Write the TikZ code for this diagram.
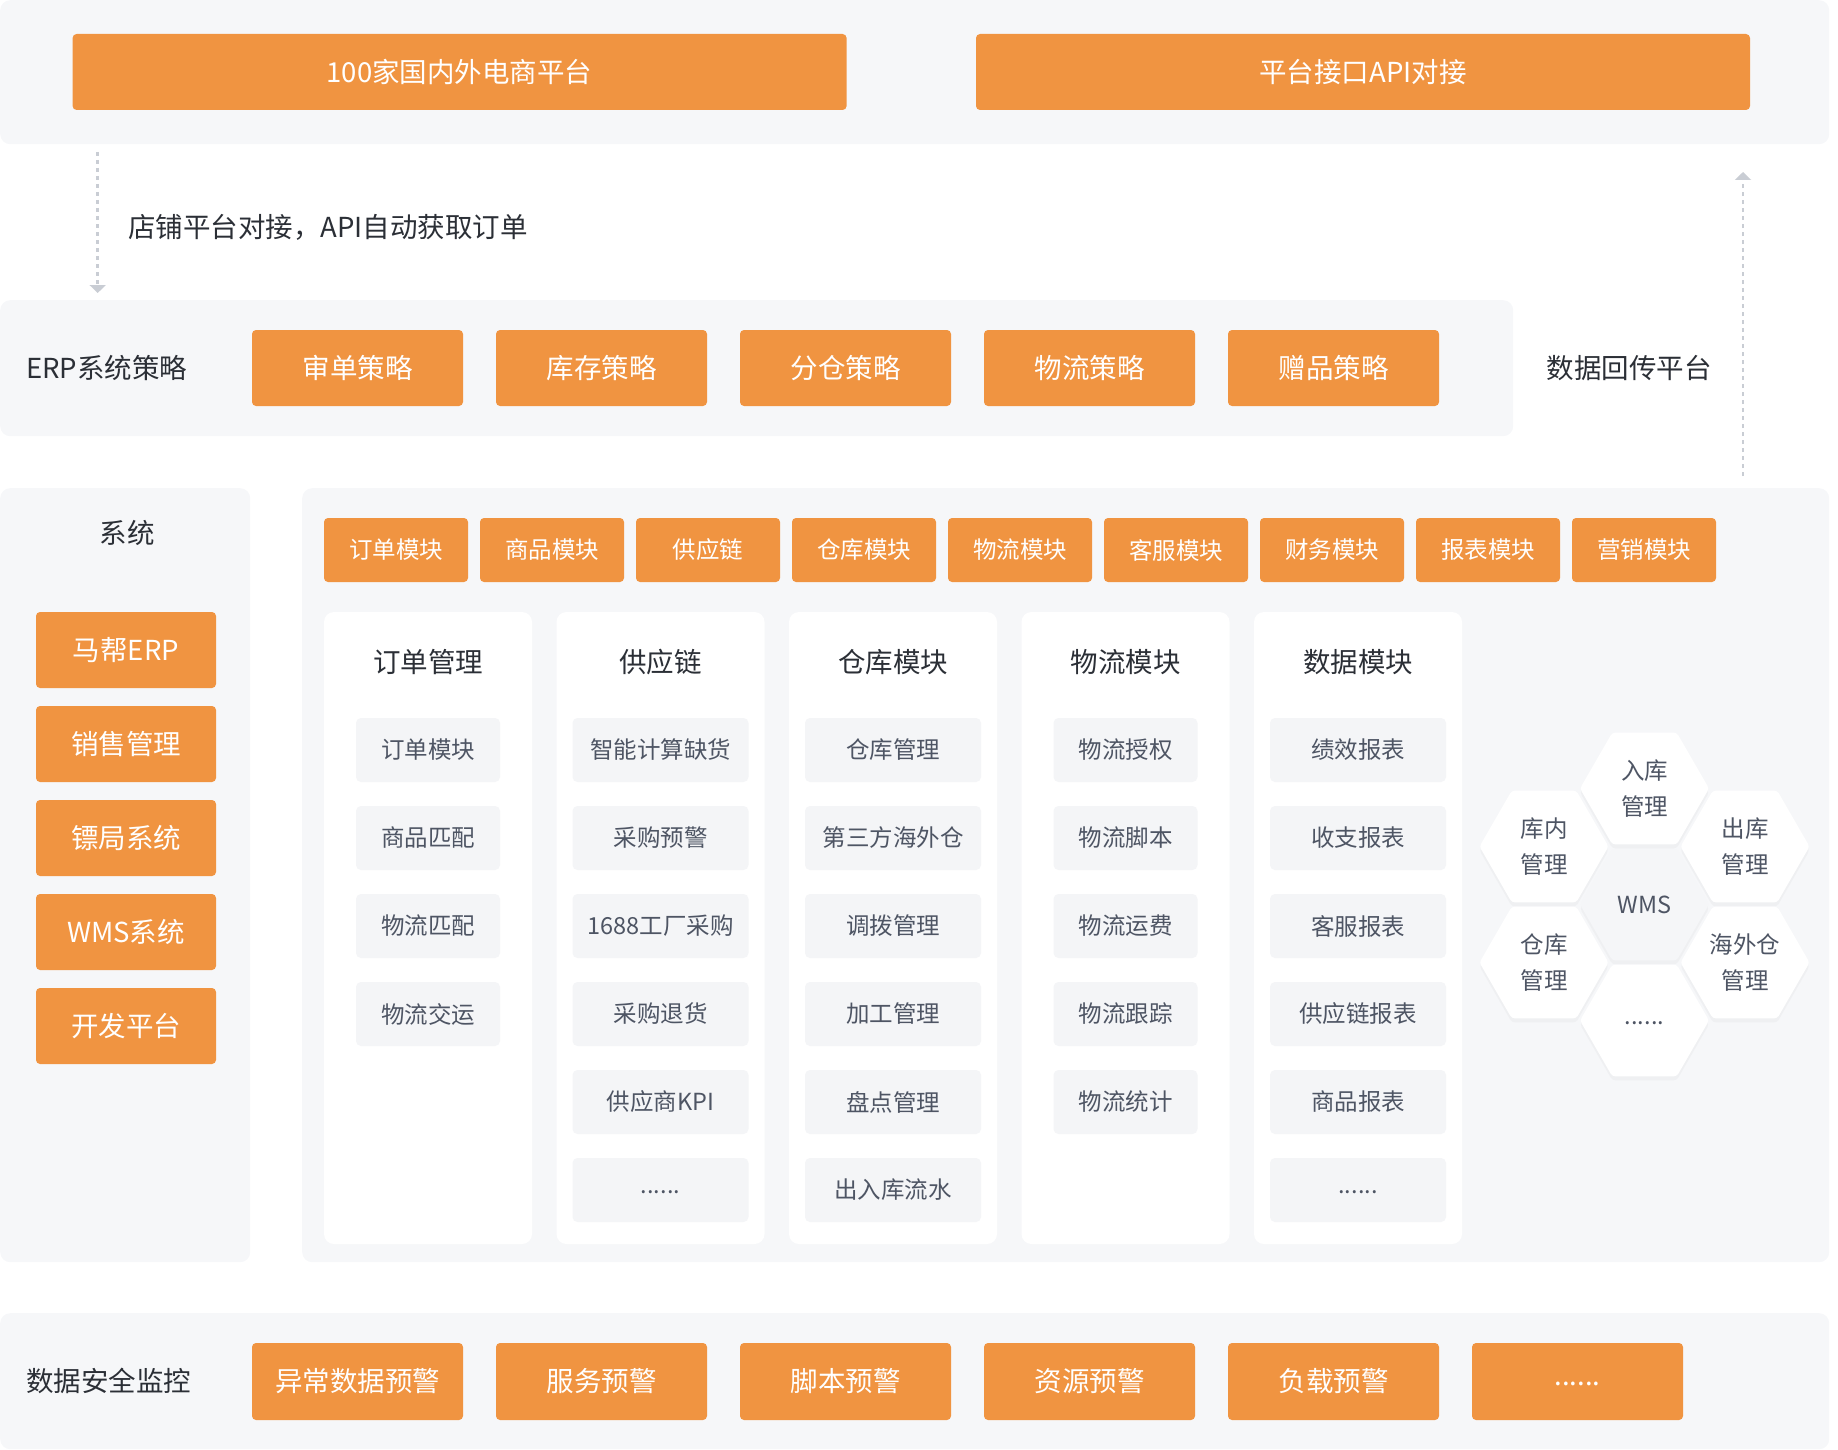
\documentclass[tikz,border=0pt]{standalone}
\usepackage{fontspec}
\setmainfont{Noto Sans CJK SC}
\usetikzlibrary{arrows.meta,shapes.geometric,shadows}

\definecolor{boxorange}{HTML}{F09441}
\definecolor{panelgray}{HTML}{F6F7F9}
\definecolor{itemgray}{HTML}{F4F5F7}
\definecolor{darktext}{HTML}{2B2F36}
\definecolor{itemtext}{HTML}{4E5564}
\definecolor{arrowgray}{HTML}{C9CDD4}

\newcommand{\fbig}{\fontsize{27.5}{33}\selectfont}
\newcommand{\fsmall}{\fontsize{23.5}{28}\selectfont}

\tikzset{
  panel/.style={fill=panelgray,rounded corners=10pt,inner sep=0pt,anchor=north west},
  column/.style={fill=white,rounded corners=10pt,inner sep=0pt,minimum width=208pt,minimum height=632pt},
  bigbox/.style={fill=boxorange,text=white,rounded corners=4pt,inner sep=0pt,minimum height=76pt,font=\fbig},
  smallbox/.style={fill=boxorange,text=white,rounded corners=4pt,inner sep=0pt,minimum width=144pt,minimum height=64pt,font=\fsmall},
  item/.style={fill=itemgray,text=itemtext,rounded corners=5pt,inner sep=0pt,minimum height=64pt,font=\fsmall},
  note/.style={text=darktext,inner sep=0pt,font=\fbig},
  hexa/.style={shape=regular polygon,regular polygon sides=6,minimum size=129pt,inner sep=0pt,
    fill=white,rounded corners=3pt,text=itemtext,align=center,font=\fontsize{23.5}{36}\selectfont,
    drop shadow={shadow xshift=0pt,shadow yshift=-4pt,opacity=0.05}},
  dots/.style={text height=0.75em,text depth=0pt},
  flow/.style={arrowgray,line width=2.5pt,dash pattern=on 4pt off 4pt,-{Triangle[width=16pt,length=8pt]}}
}

\begin{document}
\begin{tikzpicture}[x=1pt,y=-1pt]
\useasboundingbox (0,0) rectangle (1838,1450);

% platforms
\node[panel,minimum width=1829pt,minimum height=144pt] (toppanel) at (0,0) {};
\node[bigbox,minimum width=774pt] (platforms) at (459.6,72) {100家国内外电商平台};
\node[bigbox,minimum width=774pt] (apilink) at (1363,72) {平台接口API对接};

\coordinate (ordersrc) at (97.7,152);
\coordinate (orderdst) at (97.7,293);
\draw[flow] (ordersrc) -- (orderdst);
\node[note,anchor=west] (ordertext) at (128,227) {店铺平台对接，API自动获取订单};

% erp strategies
\node[panel,minimum width=1513pt,minimum height=136pt] (erppanel) at (0,300) {};
\node[note,anchor=west] (erptitle) at (26,368) {ERP系统策略};
\node[bigbox,minimum width=211pt] (audit) at (357.5,368) {审单策略};
\node[bigbox,minimum width=211pt] (stock) at (601.5,368) {库存策略};
\node[bigbox,minimum width=211pt] (split) at (845.5,368) {分仓策略};
\node[bigbox,minimum width=211pt] (logist) at (1089.5,368) {物流策略};
\node[bigbox,minimum width=211pt] (gift) at (1333.5,368) {赠品策略};

\node[note] (feedback) at (1629,368) {数据回传平台};
\coordinate (backsrc) at (1743,476);
\coordinate (backdst) at (1743,172);
\draw[flow] (backsrc) -- (backdst);

% systems
\node[panel,minimum width=250pt,minimum height=774pt] (syspanel) at (0,488) {};
\node[note] (systitle) at (127,533) {系统};
\node[bigbox,minimum width=180pt] (mabang) at (126,650) {马帮ERP};
\node[bigbox,minimum width=180pt] (sales) at (126,744) {销售管理};
\node[bigbox,minimum width=180pt] (biaoju) at (126,838) {镖局系统};
\node[bigbox,minimum width=180pt] (wms) at (126,932) {WMS系统};
\node[bigbox,minimum width=180pt] (devplat) at (126,1026) {开发平台};

% modules
\node[panel,minimum width=1527pt,minimum height=774pt] (modpanel) at (302,488) {};
\node[smallbox] (mOrder) at (396,550) {订单模块};
\node[smallbox] (mGoods) at (552,550) {商品模块};
\node[smallbox] (mSupply) at (708,550) {供应链};
\node[smallbox] (mStore) at (864,550) {仓库模块};
\node[smallbox] (mLogist) at (1020,550) {物流模块};
\node[smallbox] (mService) at (1176,550) {客服模块};
\node[smallbox] (mFinance) at (1332,550) {财务模块};
\node[smallbox] (mReport) at (1488,550) {报表模块};
\node[smallbox] (mMarket) at (1644,550) {营销模块};

\node[column] (colorder) at (428,928) {};
\node[column] (colsupply) at (660.5,928) {};
\node[column] (colstore) at (893,928) {};
\node[column] (collogist) at (1125.5,928) {};
\node[column] (coldata) at (1358,928) {};

\node[note] (torder) at (428,662) {订单管理};
\node[note] (tsupply) at (660.5,662) {供应链};
\node[note] (tstore) at (893,662) {仓库模块};
\node[note] (tlogist) at (1125.5,662) {物流模块};
\node[note] (tdata) at (1358,662) {数据模块};

\node[item,minimum width=144pt] (ord1) at (428,750) {订单模块};
\node[item,minimum width=144pt] (ord2) at (428,838) {商品匹配};
\node[item,minimum width=144pt] (ord3) at (428,926) {物流匹配};
\node[item,minimum width=144pt] (ord4) at (428,1014) {物流交运};

\node[item,minimum width=176pt] (sup1) at (660.5,750) {智能计算缺货};
\node[item,minimum width=176pt] (sup2) at (660.5,838) {采购预警};
\node[item,minimum width=176pt] (sup3) at (660.5,926) {1688工厂采购};
\node[item,minimum width=176pt] (sup4) at (660.5,1014) {采购退货};
\node[item,minimum width=176pt] (sup5) at (660.5,1102) {供应商KPI};
\node[item,dots,minimum width=176pt] (sup6) at (660.5,1190) {......};

\node[item,minimum width=176pt] (wh1) at (893,750) {仓库管理};
\node[item,minimum width=176pt] (wh2) at (893,838) {第三方海外仓};
\node[item,minimum width=176pt] (wh3) at (893,926) {调拨管理};
\node[item,minimum width=176pt] (wh4) at (893,1014) {加工管理};
\node[item,minimum width=176pt] (wh5) at (893,1102) {盘点管理};
\node[item,minimum width=176pt] (wh6) at (893,1190) {出入库流水};

\node[item,minimum width=144pt] (lg1) at (1125.5,750) {物流授权};
\node[item,minimum width=144pt] (lg2) at (1125.5,838) {物流脚本};
\node[item,minimum width=144pt] (lg3) at (1125.5,926) {物流运费};
\node[item,minimum width=144pt] (lg4) at (1125.5,1014) {物流跟踪};
\node[item,minimum width=144pt] (lg5) at (1125.5,1102) {物流统计};

\node[item,minimum width=176pt] (dt1) at (1358,750) {绩效报表};
\node[item,minimum width=176pt] (dt2) at (1358,838) {收支报表};
\node[item,minimum width=176pt] (dt3) at (1358,926) {客服报表};
\node[item,minimum width=176pt] (dt4) at (1358,1014) {供应链报表};
\node[item,minimum width=176pt] (dt5) at (1358,1102) {商品报表};
\node[item,dots,minimum width=176pt] (dt6) at (1358,1190) {......};

% wms honeycomb
\node[hexa,fill=panelgray!60!itemgray,drop shadow={opacity=0}] (hwms) at (1644.5,904.5) {WMS};
\node[hexa] (hin) at (1644.5,788.5) {入库\\管理};
\node[hexa] (hinner) at (1544,846.5) {库内\\管理};
\node[hexa] (hout) at (1745,846.5) {出库\\管理};
\node[hexa] (hstore) at (1544,962.5) {仓库\\管理};
\node[hexa] (hover) at (1745,962.5) {海外仓\\管理};
\node[hexa,dots] (hmore) at (1644.5,1020.5) {......};

% monitoring
\node[panel,minimum width=1829pt,minimum height=136pt] (monpanel) at (0,1313) {};
\node[note,anchor=west] (montitle) at (26,1381) {数据安全监控};
\node[bigbox,minimum width=211pt,minimum height=77pt] (abnormal) at (357.5,1381.5) {异常数据预警};
\node[bigbox,minimum width=211pt,minimum height=77pt] (service) at (601.5,1381.5) {服务预警};
\node[bigbox,minimum width=211pt,minimum height=77pt] (script) at (845.5,1381.5) {脚本预警};
\node[bigbox,minimum width=211pt,minimum height=77pt] (resource) at (1089.5,1381.5) {资源预警};
\node[bigbox,minimum width=211pt,minimum height=77pt] (load) at (1333.5,1381.5) {负载预警};
\node[bigbox,dots,minimum width=211pt,minimum height=77pt] (others) at (1577.5,1381.5) {......};

\end{tikzpicture}
\end{document}
